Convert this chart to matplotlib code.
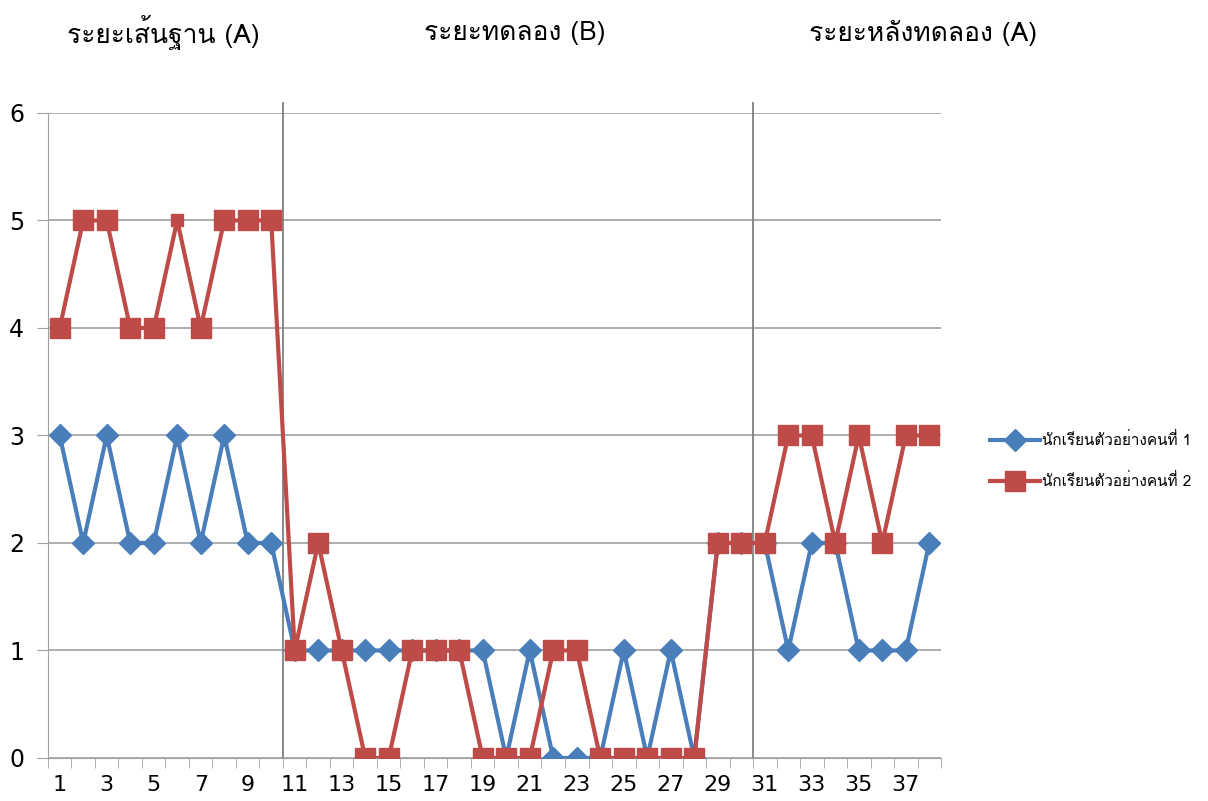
import matplotlib
matplotlib.use("Agg")
import matplotlib.pyplot as plt
from matplotlib import font_manager
from matplotlib.ft2font import FT2Font

# data
sessions = list(range(1, 39))
student1 = [3, 2, 3, 2, 2, 3, 2, 3, 2, 2,
            1, 1, 1, 1, 1, 1, 1, 1, 1, 0, 1, 0, 0, 0, 1, 0, 1, 0, 2, 2,
            2, 1, 2, 2, 1, 1, 1, 2]
student2 = [4, 5, 5, 4, 4, 5, 4, 5, 5, 5,
            1, 2, 1, 0, 0, 1, 1, 1, 0, 0, 0, 1, 1, 0, 0, 0, 0, 0, 2, 2,
            2, 3, 3, 2, 3, 2, 3, 3]
phase_titles = ["ระยะเส้นฐาน (A)", "ระยะทดลอง (B)", "ระยะหลังทดลอง (A)"]
phase_breaks = [10.5, 30.5]
legend_labels = ["นักเรียนตัวอย่างคนที่ 1", "นักเรียนตัวอย่างคนที่ 2"]
small_mark = 5  # index of the oddly small red marker in the original


def thai_font():
    # pick any installed font that actually has Thai glyphs
    for f in font_manager.fontManager.ttflist:
        try:
            if FT2Font(f.fname).get_char_index(0x0E01):
                return f.name
        except Exception:
            continue
    return None


tf = thai_font()
fams = ([tf] if tf else []) + ["DejaVu Sans"]

fig = plt.figure(figsize=(12.08, 8.01), dpi=100)
ax = fig.add_axes([0.0397, 0.0537, 0.7393, 0.8053])

blue = "#4a7ebb"
red = "#be4b48"
ax.plot(sessions, student1, color=blue, lw=3, marker="D", ms=11, zorder=3, label=legend_labels[0])
keep = [i for i in range(len(sessions)) if i != small_mark]
ax.plot(sessions, student2, color=red, lw=3, marker="s", ms=15, markevery=keep,
        zorder=4, label=legend_labels[1])
ax.plot(sessions[small_mark], student2[small_mark], color=red, marker="s", ms=8, zorder=4)

for b in phase_breaks:
    ax.axvline(b, ymin=0, ymax=1.015, color="#808080", lw=1.3, clip_on=False, zorder=2)

ax.set_xlim(0.5, 38.5)
ax.set_ylim(0, 6)
ax.set_yticks(range(0, 7))
ax.set_xticks(sessions[::2])
ax.set_xticks([i + 0.5 for i in range(0, 39)], minor=True)
ax.tick_params(axis="x", which="major", length=0, labelsize=16, pad=12)
ax.tick_params(axis="x", which="minor", length=7, color="#a0a0a0")
ax.tick_params(axis="y", length=8, color="#a0a0a0", labelsize=17, pad=9)
ax.grid(axis="y", color="#a0a0a0", lw=1.2, zorder=0)
for s in ["top", "right"]:
    ax.spines[s].set_visible(False)
ax.spines["left"].set_color("#a0a0a0")
ax.spines["bottom"].set_color("#a0a0a0")

title_x = [163, 515, 923]
for tx, t in zip(title_x, phase_titles):
    fig.text(tx / 1208, 1 - 33 / 801, t, ha="center", va="center", fontsize=19, family=fams)

leg = fig.legend(loc="center left", bbox_to_anchor=(0.808, 0.425), frameon=False,
                 prop={"family": fams, "size": 11}, handlelength=3.3, labelspacing=1.6,
                 handletextpad=0.1)

plt.savefig("out.png", dpi=100)
